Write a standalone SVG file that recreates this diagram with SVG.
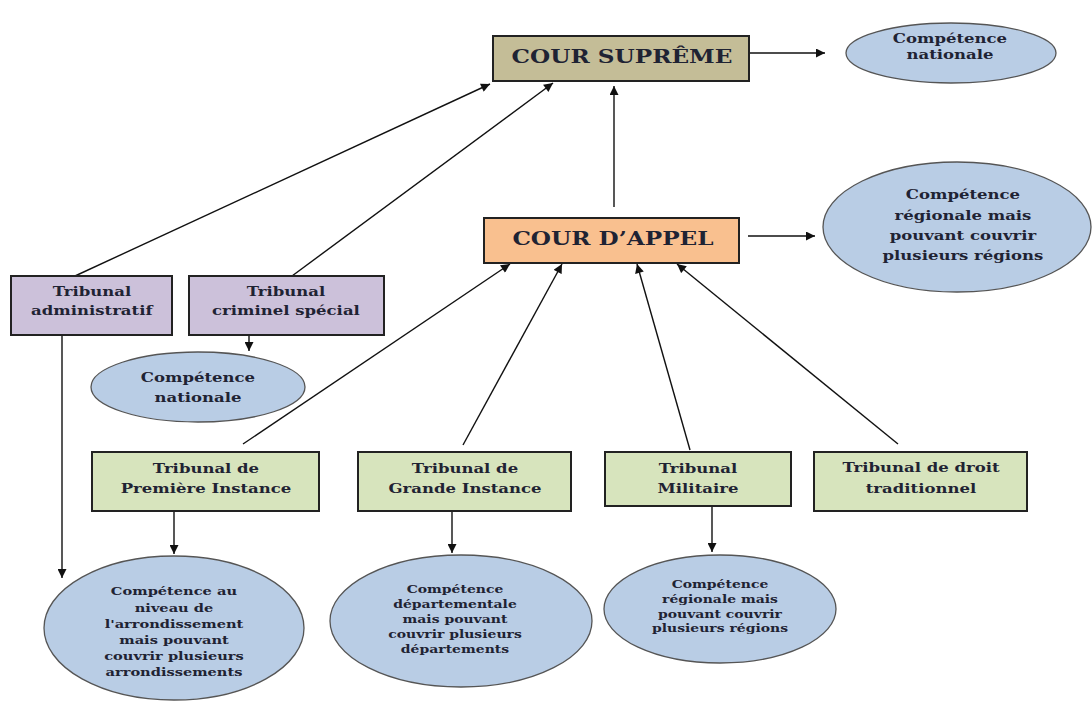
<svg xmlns="http://www.w3.org/2000/svg" width="1092" height="704" viewBox="0 0 1092 704">
<style>
.box{stroke:#222;stroke-width:2}
.ell{fill:#b9cde5;stroke:#555;stroke-width:1.3}
.t{font-family:"DejaVu Serif","Liberation Serif",serif;font-weight:bold;fill:#1f2333;text-anchor:middle;transform-box:fill-box;transform-origin:center;transform:scaleX(1.27)}
.s{font-size:13px}
.e{font-size:11px}
.p{font-size:11.5px}
.big{font-size:19px;transform:scaleX(1.22)}
.c{stroke:#111;stroke-width:1.4;fill:none;marker-end:url(#ah)}
</style>
<defs>
<marker id="ah" viewBox="0 0 10 10" refX="10" refY="5" markerWidth="10" markerHeight="9" markerUnits="userSpaceOnUse" orient="auto">
<path d="M0,0 L10,5 L0,10 z" fill="#111"/>
</marker>
</defs>
<rect width="1092" height="704" fill="#fff"/>
<g id="connectors">
<line class="c" x1="749" y1="53" x2="825" y2="53"/>
<line class="c" x1="614" y1="207" x2="614" y2="86"/>
<line class="c" x1="748" y1="236" x2="815" y2="236"/>
<line class="c" x1="75" y1="276" x2="490" y2="84"/>
<line class="c" x1="292" y1="276" x2="553" y2="83"/>
<line class="c" x1="62" y1="335" x2="62" y2="578"/>
<line class="c" x1="249" y1="335" x2="249" y2="351"/>
<line class="c" x1="243" y1="444" x2="510" y2="264"/>
<line class="c" x1="463" y1="445" x2="562" y2="264"/>
<line class="c" x1="690" y1="450" x2="637" y2="264"/>
<line class="c" x1="898" y1="444" x2="677" y2="264"/>
<line class="c" x1="174" y1="512" x2="174" y2="554"/>
<line class="c" x1="452" y1="512" x2="452" y2="553"/>
<line class="c" x1="712" y1="507" x2="712" y2="552"/>
</g>
<g id="cour-supreme">
<rect class="box" x="493" y="36" width="256" height="45" fill="#c4bd97"/>
<text class="t big" x="622" y="63">COUR SUPRÊME</text>
</g>
<g id="comp-nationale-1">
<ellipse class="ell" cx="951" cy="53" rx="105" ry="30"/>
<text class="t s" x="950" y="43">Compétence</text>
<text class="t s" x="950" y="59">nationale</text>
</g>
<g id="cour-appel">
<rect class="box" x="484" y="218" width="255" height="45" fill="#f9c08f"/>
<text class="t big" x="613" y="245">COUR D’APPEL</text>
</g>
<g id="comp-regionale-1">
<ellipse class="ell" cx="957" cy="227" rx="134" ry="65"/>
<text class="t s" x="963" y="199">Compétence</text>
<text class="t s" x="963" y="220">régionale mais</text>
<text class="t s" x="963" y="240">pouvant couvrir</text>
<text class="t s" x="963" y="260">plusieurs régions</text>
</g>
<g id="tribunal-administratif">
<rect class="box" x="11" y="276" width="161" height="59" fill="#ccc1da"/>
<text class="t s" x="92" y="296">Tribunal</text>
<text class="t s" x="92" y="315">administratif</text>
</g>
<g id="tribunal-criminel-special">
<rect class="box" x="189" y="276" width="195" height="59" fill="#ccc1da"/>
<text class="t s" x="286" y="296">Tribunal</text>
<text class="t s" x="286" y="315">criminel spécial</text>
</g>
<g id="comp-nationale-2">
<ellipse class="ell" cx="198" cy="387" rx="107" ry="35"/>
<text class="t s" x="198" y="382">Compétence</text>
<text class="t s" x="198" y="402">nationale</text>
</g>
<g id="tribunal-premiere-instance">
<rect class="box" x="92" y="452" width="227" height="59" fill="#d7e4bd"/>
<text class="t s" x="206" y="473">Tribunal de</text>
<text class="t s" x="206" y="493">Première Instance</text>
</g>
<g id="tribunal-grande-instance">
<rect class="box" x="358" y="452" width="213" height="59" fill="#d7e4bd"/>
<text class="t s" x="465" y="473">Tribunal de</text>
<text class="t s" x="465" y="493">Grande Instance</text>
</g>
<g id="tribunal-militaire">
<rect class="box" x="605" y="452" width="186" height="54" fill="#d7e4bd"/>
<text class="t s" x="698" y="473">Tribunal</text>
<text class="t s" x="698" y="493">Militaire</text>
</g>
<g id="tribunal-droit-traditionnel">
<rect class="box" x="814" y="452" width="213" height="59" fill="#d7e4bd"/>
<text class="t s" x="921" y="472">Tribunal de droit</text>
<text class="t s" x="921" y="493">traditionnel</text>
</g>
<g id="comp-arrondissement">
<ellipse class="ell" cx="174" cy="628" rx="130" ry="72"/>
<text class="t p" x="174" y="595">Compétence au</text>
<text class="t p" x="174" y="612">niveau de</text>
<text class="t p" x="174" y="628">l'arrondissement</text>
<text class="t p" x="174" y="644">mais pouvant</text>
<text class="t p" x="174" y="660">couvrir plusieurs</text>
<text class="t p" x="174" y="676">arrondissements</text>
</g>
<g id="comp-departementale">
<ellipse class="ell" cx="461" cy="621" rx="131" ry="66"/>
<text class="t e" x="455" y="593">Compétence</text>
<text class="t e" x="455" y="608">départementale</text>
<text class="t e" x="455" y="623">mais pouvant</text>
<text class="t e" x="455" y="638">couvrir plusieurs</text>
<text class="t e" x="455" y="653">départements</text>
</g>
<g id="comp-regionale-2">
<ellipse class="ell" cx="720" cy="609" rx="116" ry="54"/>
<text class="t e" x="720" y="588">Compétence</text>
<text class="t e" x="720" y="603">régionale mais</text>
<text class="t e" x="720" y="618">pouvant couvrir</text>
<text class="t e" x="720" y="632">plusieurs régions</text>
</g>
</svg>
